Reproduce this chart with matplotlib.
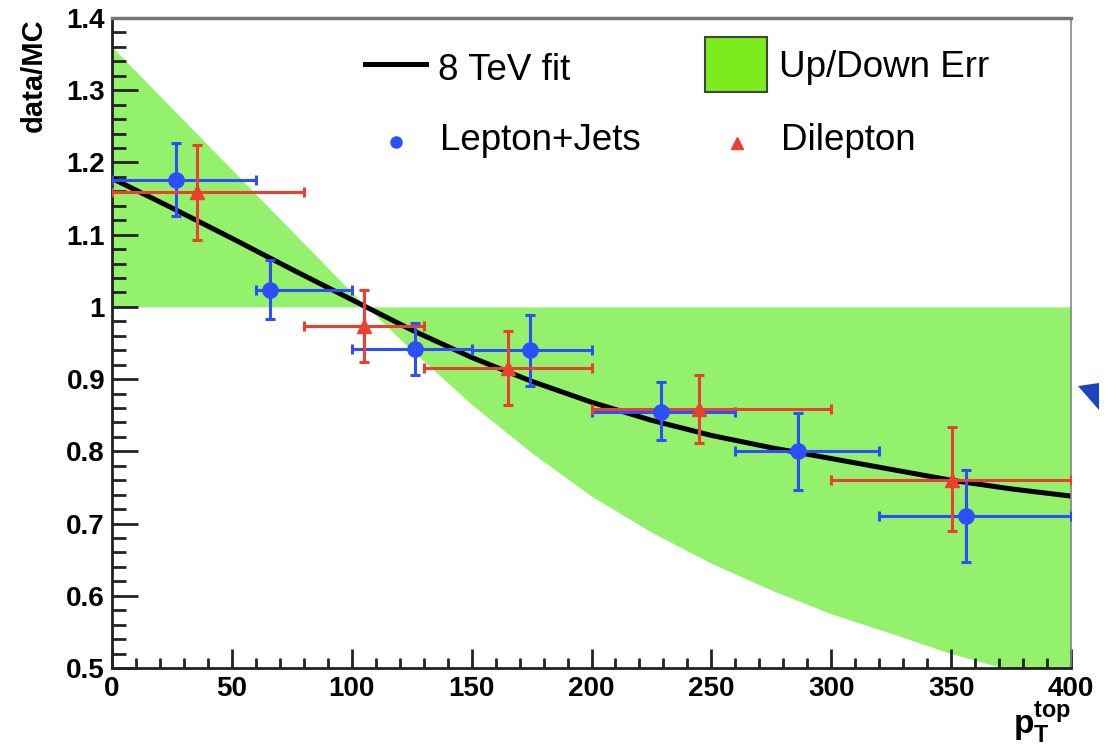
import numpy as np
import matplotlib.pyplot as plt
from matplotlib.patches import Rectangle, Polygon
from matplotlib.ticker import MultipleLocator, FuncFormatter

plt.rcParams['font.family'] = ['Liberation Sans', 'DejaVu Sans']
plt.rcParams['mathtext.fontset'] = 'custom'
plt.rcParams['mathtext.rm'] = 'Liberation Sans'
plt.rcParams['mathtext.bf'] = 'Liberation Sans:bold'
plt.rcParams['mathtext.it'] = 'Liberation Sans:italic'

# Lepton+Jets: bin edges, central value, error bounds
lj_x = [26.7, 66.0, 126.4, 174.4, 228.9, 286.0, 356.0]
lj_y = [1.176, 1.023, 0.941, 0.940, 0.855, 0.800, 0.710]
lj_up = [1.227, 1.065, 0.978, 0.989, 0.896, 0.853, 0.774]
lj_dn = [1.126, 0.983, 0.906, 0.890, 0.816, 0.747, 0.647]
lj_lo = [0, 60, 100, 150, 200, 260, 320]
lj_hi = [60, 100, 150, 200, 260, 320, 400]

# Dilepton
dl_x = [35.3, 105.2, 165.3, 245.0, 350.4]
dl_y = [1.159, 0.973, 0.915, 0.859, 0.760]
dl_up = [1.224, 1.024, 0.967, 0.905, 0.833]
dl_dn = [1.093, 0.923, 0.864, 0.812, 0.690]
dl_lo = [0, 80, 130, 200, 300]
dl_hi = [80, 130, 200, 300, 400]

# 8 TeV fit curve and up/down error edge, sampled every 25 GeV
pt_grid = [0, 25, 50, 75, 100, 125, 150, 175, 200, 225, 250, 275, 300, 325, 350, 375, 400]
fit_sf = [1.178, 1.137, 1.095, 1.052, 1.010, 0.968, 0.930, 0.897, 0.868,
          0.843, 0.822, 0.805, 0.790, 0.775, 0.760, 0.748, 0.738]
err_edge = [1.360, 1.275, 1.190, 1.105, 1.020, 0.940, 0.865, 0.798, 0.738,
            0.688, 0.645, 0.608, 0.575, 0.548, 0.520, 0.497, 0.476]

c_band = '#94f16b'
c_patch = '#7ced1c'
c_blue = '#2d4ffb'
c_red = '#e8412f'

fig = plt.figure(figsize=(11.13, 7.47), dpi=100)
ax = fig.add_axes([0.10063, 0.10576, 0.86164, 0.87015])

ax.fill_between(pt_grid, 1.0, err_edge, color=c_band, lw=0, zorder=1)
ax.plot(pt_grid, fit_sf, color='black', lw=3.6, zorder=2)


def draw_points(x, y, up, dn, lo, hi, color, marker, ms):
    x = np.array(x)
    y = np.array(y)
    xerr = [x - np.array(lo), np.array(hi) - x]
    yerr = [y - np.array(dn), np.array(up) - y]
    ax.errorbar(x, y, xerr=xerr, yerr=yerr, fmt=marker, color=color,
                ms=ms, elinewidth=2.2, capsize=3.5, capthick=2.2, zorder=3)


draw_points(lj_x, lj_y, lj_up, lj_dn, lj_lo, lj_hi, c_blue, 'o', 11)
draw_points(dl_x, dl_y, dl_up, dl_dn, dl_lo, dl_hi, c_red, '^', 10)

ax.set_xlim(0, 400)
ax.set_ylim(0.5, 1.4)
ax.xaxis.set_major_locator(MultipleLocator(50))
ax.xaxis.set_minor_locator(MultipleLocator(10))
ax.yaxis.set_major_locator(MultipleLocator(0.1))
ax.yaxis.set_minor_locator(MultipleLocator(0.02))
ax.yaxis.set_major_formatter(FuncFormatter(lambda v, p: f'{v:.1f}'.rstrip('0').rstrip('.')))

ax.tick_params(which='both', direction='in', top=False, right=False, color='#222222', width=2)
ax.tick_params(axis='y', which='major', length=19, pad=5)
ax.tick_params(axis='y', which='minor', length=10)
ax.tick_params(axis='x', which='major', length=14, pad=6)
ax.tick_params(axis='x', which='minor', length=7)
for lab in ax.get_xticklabels() + ax.get_yticklabels():
    lab.set_fontsize(20)
    lab.set_fontweight('bold')

for side in ['left', 'bottom']:
    ax.spines[side].set_linewidth(2)
    ax.spines[side].set_color('#222222')
ax.spines['top'].set_linewidth(2.5)
ax.spines['top'].set_color('#777777')
ax.spines['right'].set_linewidth(1.2)
ax.spines['right'].set_color('#888888')

fig.text(34 / 1113, 1 - 18 / 747, 'data/MC', rotation=90, ha='center', va='top',
         fontsize=21, fontweight='bold')
fig.text(1071 / 1113, 1 - 745 / 747, r'$\mathbf{p}_{\mathbf{T}}^{\mathbf{top}}$',
         ha='right', va='bottom', fontsize=24)


# legend drawn by hand, positions in pixels of the figure
def px(x, y):
    return x / 1113, 1 - y / 747


fig.add_artist(plt.Line2D([365 / 1113, 426 / 1113], [1 - 64 / 747] * 2, color='black', lw=3.6))
fig.text(*px(438, 80), '8 TeV fit', fontsize=26.5, va='baseline')
fig.add_artist(Rectangle(px(705, 92), 62 / 1113, 55 / 747, facecolor=c_patch,
                         edgecolor='#444444', lw=1.5))
fig.text(*px(779, 77), 'Up/Down Err', fontsize=26.5, va='baseline')
fig.add_artist(plt.Line2D([396 / 1113], [1 - 142 / 747], marker='o', color=c_blue, ms=8))
fig.text(*px(440, 150), 'Lepton+Jets', fontsize=26.5, va='baseline')
fig.add_artist(plt.Line2D([737 / 1113], [1 - 143 / 747], marker='^', color=c_red, ms=8))
fig.text(*px(781, 150), 'Dilepton', fontsize=26.5, va='baseline')

# clipped arrow head sitting at the right edge
fig.add_artist(Polygon([px(1078, 386), px(1099, 383), px(1099, 410)], closed=True,
                       facecolor='#1a44c0', edgecolor='none'))

fig.savefig('out.png', dpi=100)
